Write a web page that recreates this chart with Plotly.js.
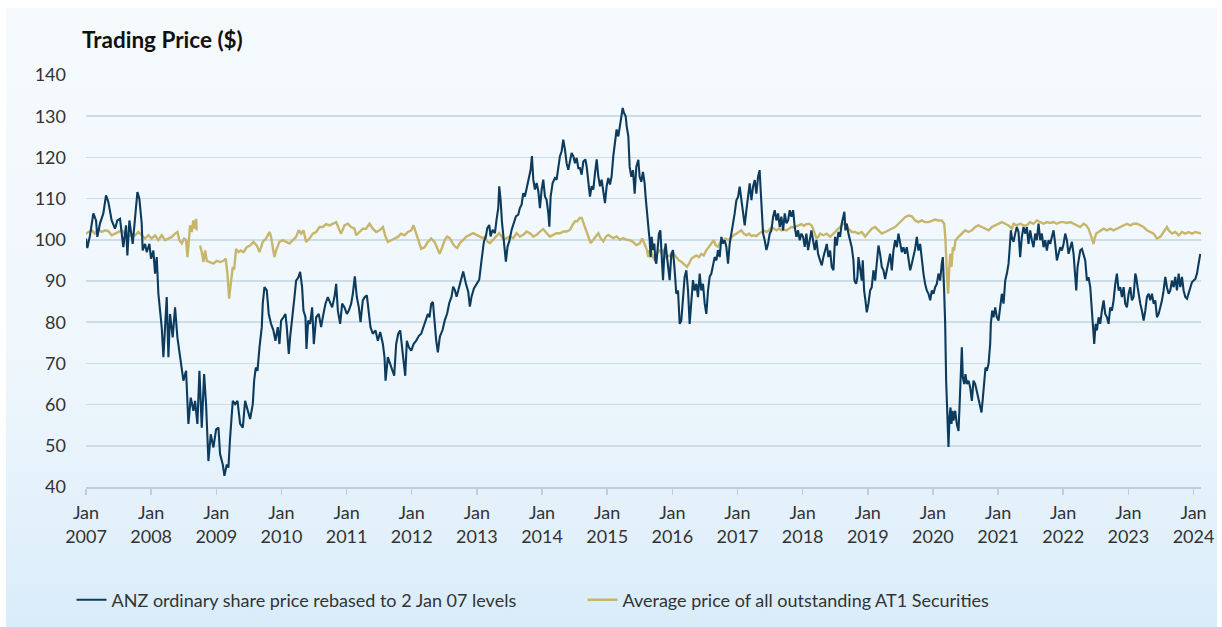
<!DOCTYPE html>
<html>
<head>
<meta charset="utf-8">
<script src="https://cdn.plot.ly/plotly-3.0.1.min.js"></script>
<style>
  html, body { margin: 0; padding: 0; background: #ffffff; }
  #bg { position: absolute; left: 6px; top: 8px; width: 1211px; height: 619px;
        background: linear-gradient(to bottom, #f6fafd 0%, #eff7fc 55%, #e4f1fb 80%, #d9ecf9 100%); }
  #chart { position: absolute; left: 0; top: 0; width: 1222px; height: 627px; }
</style>
</head>
<body>
<div id="bg"></div>
<div id="chart"></div>
<script>
// ---- Data (decimal years) ----
const anzDates = [
2007.000,2007.020,2007.061,2007.113,2007.154,2007.174,2007.215,2007.266,2007.307,2007.343,2007.394,2007.445,2007.481,2007.522,2007.573,2007.614,2007.635,2007.666,2007.717,2007.753,2007.789,2007.819,2007.855,2007.870,2007.906,2007.932,2007.973,2007.998,
2008.034,2008.060,2008.086,2008.111,2008.137,2008.162,2008.188,2008.214,2008.239,2008.265,2008.290,2008.331,2008.367,2008.403,2008.444,2008.495,2008.536,2008.572,2008.608,2008.649,2008.674,2008.710,2008.741,2008.777,2008.813,2008.843,2008.879,2008.915,2008.956,2008.997,
2009.033,2009.058,2009.099,2009.125,2009.161,2009.186,2009.212,2009.253,2009.289,2009.325,2009.366,2009.407,2009.442,2009.478,2009.519,2009.560,2009.581,2009.606,2009.632,2009.663,2009.698,2009.713,2009.739,2009.775,2009.805,2009.841,2009.877,2009.908,2009.944,2009.969,2009.995,
2010.031,2010.061,2010.082,2010.113,2010.133,2010.164,2010.200,2010.225,2010.261,2010.287,2010.317,2010.338,2010.369,2010.384,2010.410,2010.440,2010.471,2010.497,2010.533,2010.573,2010.609,2010.635,2010.676,2010.712,2010.748,2010.778,2010.814,2010.840,2010.866,2010.901,2010.932,2010.968,
2011.004,2011.034,2011.070,2011.096,2011.126,2011.157,2011.188,2011.214,2011.249,2011.280,2011.311,2011.341,2011.367,2011.403,2011.444,2011.480,2011.516,2011.557,2011.582,2011.598,2011.633,2011.669,2011.700,2011.731,2011.761,2011.792,2011.823,2011.854,2011.874,2011.900,2011.925,2011.956,2011.992,
2012.028,2012.069,2012.110,2012.145,2012.181,2012.222,2012.248,2012.273,2012.299,2012.325,2012.350,2012.376,2012.401,2012.432,2012.473,2012.508,2012.544,2012.575,2012.611,2012.636,2012.662,2012.688,2012.729,2012.764,2012.790,2012.831,2012.867,2012.892,2012.918,2012.954,2012.995,
2013.036,2013.072,2013.108,2013.138,2013.159,2013.190,2013.210,2013.241,2013.277,2013.302,2013.328,2013.343,2013.364,2013.384,2013.405,2013.430,2013.445,2013.471,2013.497,2013.533,2013.568,2013.599,2013.635,2013.660,2013.686,2013.712,2013.737,2013.773,2013.804,2013.825,2013.845,2013.866,2013.891,2013.917,2013.943,2013.968,2013.994,
2014.019,2014.045,2014.070,2014.096,2014.112,2014.132,2014.163,2014.198,2014.224,2014.249,2014.275,2014.301,2014.326,2014.352,2014.377,2014.403,2014.429,2014.454,2014.480,2014.506,2014.531,2014.557,2014.582,2014.608,2014.634,2014.665,2014.685,2014.711,2014.736,2014.762,2014.787,2014.813,2014.839,2014.864,2014.890,2014.915,2014.941,2014.966,2014.992,
2015.017,2015.043,2015.068,2015.094,2015.120,2015.145,2015.171,2015.196,2015.222,2015.238,2015.258,2015.284,2015.299,2015.325,2015.345,2015.371,2015.396,2015.422,2015.447,2015.478,2015.498,2015.524,2015.549,2015.575,2015.590,2015.601,2015.616,2015.637,2015.652,2015.667,2015.683,2015.703,2015.724,2015.739,2015.754,2015.775,2015.795,2015.816,2015.836,2015.857,2015.877,2015.898,2015.918,2015.939,2015.959,2015.985,
2016.010,2016.036,2016.061,2016.087,2016.113,2016.138,2016.164,2016.189,2016.215,2016.241,2016.266,2016.292,2016.317,2016.343,2016.369,2016.394,2016.420,2016.445,2016.471,2016.497,2016.522,2016.548,2016.573,2016.599,2016.625,2016.650,2016.676,2016.701,2016.727,2016.753,2016.778,2016.804,2016.829,2016.855,2016.881,2016.906,2016.932,2016.957,2016.983,
2017.009,2017.034,2017.060,2017.086,2017.111,2017.137,2017.162,2017.188,2017.214,2017.239,2017.265,2017.290,2017.316,2017.340,2017.356,2017.372,2017.393,2017.418,2017.444,2017.470,2017.495,2017.521,2017.547,2017.572,2017.598,2017.623,2017.649,2017.674,2017.700,2017.726,2017.751,2017.777,2017.802,2017.828,2017.854,2017.879,2017.905,2017.930,2017.956,2017.981,
2018.007,2018.033,2018.058,2018.084,2018.109,2018.135,2018.160,2018.186,2018.212,2018.237,2018.268,2018.294,2018.319,2018.345,2018.371,2018.396,2018.422,2018.447,2018.473,2018.498,2018.524,2018.550,2018.575,2018.600,2018.626,2018.641,2018.657,2018.677,2018.703,2018.729,2018.754,2018.780,2018.795,2018.821,2018.841,2018.857,2018.882,2018.908,2018.923,2018.944,2018.964,2018.985,
2019.010,2019.036,2019.061,2019.087,2019.113,2019.138,2019.164,2019.189,2019.215,2019.241,2019.266,2019.292,2019.317,2019.343,2019.369,2019.394,2019.420,2019.446,2019.471,2019.497,2019.522,2019.548,2019.573,2019.599,2019.625,2019.651,2019.676,2019.702,2019.727,2019.753,2019.778,2019.804,2019.829,2019.855,2019.880,2019.906,2019.932,2019.958,2019.983,
2020.009,2020.034,2020.060,2020.085,2020.111,2020.136,2020.152,2020.172,2020.188,2020.203,2020.218,2020.229,2020.239,2020.254,2020.270,2020.285,2020.301,2020.316,2020.342,2020.367,2020.393,2020.408,2020.418,2020.444,2020.459,2020.480,2020.500,2020.521,2020.546,2020.572,2020.598,2020.623,2020.649,2020.674,2020.700,2020.726,2020.746,2020.767,2020.787,2020.807,2020.828,2020.854,2020.879,2020.889,2020.910,2020.930,2020.956,2020.981,
2021.007,2021.033,2021.058,2021.084,2021.110,2021.135,2021.161,2021.176,2021.197,2021.210,2021.237,2021.263,2021.288,2021.314,2021.339,2021.365,2021.391,2021.416,2021.442,2021.467,2021.493,2021.519,2021.544,2021.570,2021.595,2021.621,2021.647,2021.672,2021.698,2021.724,2021.749,2021.775,2021.800,2021.826,2021.852,2021.877,2021.903,2021.928,2021.954,2021.980,
2022.005,2022.031,2022.056,2022.082,2022.108,2022.133,2022.159,2022.184,2022.200,2022.220,2022.241,2022.261,2022.287,2022.312,2022.338,2022.364,2022.389,2022.415,2022.440,2022.456,2022.476,2022.497,2022.517,2022.543,2022.568,2022.594,2022.620,2022.645,2022.671,2022.696,2022.722,2022.748,2022.773,2022.799,2022.824,2022.850,2022.876,2022.901,2022.927,2022.952,2022.978,
2023.004,2023.029,2023.055,2023.080,2023.106,2023.121,2023.142,2023.162,2023.183,2023.208,2023.234,2023.260,2023.285,2023.311,2023.336,2023.362,2023.388,2023.413,2023.439,2023.465,2023.490,2023.516,2023.541,2023.567,2023.592,2023.618,2023.644,2023.669,2023.695,2023.720,2023.746,2023.772,2023.797,2023.823,2023.848,2023.874,2023.900,2023.925,2023.951,2023.976,
2024.002,2024.028,2024.053,2024.079,2024.104
];
const anzValues = [
100.3,98.0,101.0,106.4,104.7,100.7,104.0,106.4,110.8,109.2,104.7,102.7,104.7,105.1,98.2,103.5,96.2,104.7,99.0,105.5,111.6,110.0,104.0,97.4,99.0,97.0,99.0,95.4,
97.4,91.8,95.8,86.9,82.8,78.8,71.5,79.6,86.1,71.5,82.0,76.3,83.6,76.3,71.5,65.8,68.2,55.3,61.7,58.5,60.9,55.3,68.2,54.4,67.4,60.1,46.3,52.8,49.6,54.0,
54.4,48.0,45.5,42.7,45.5,44.7,52.0,60.9,60.1,60.9,55.3,54.4,60.9,58.5,56.5,60.1,65.8,69.0,68.2,73.9,78.8,84.5,88.5,87.7,82.0,79.6,78.0,75.5,78.8,74.7,80.4,
81.2,82.0,78.8,72.3,76.3,80.4,86.1,90.1,90.9,92.2,88.5,82.8,81.2,73.5,80.4,79.6,83.6,74.7,81.2,82.0,78.8,81.2,84.5,86.1,84.9,83.6,86.1,89.3,82.8,79.6,84.5,83.6,
82.0,82.8,84.5,86.9,91.1,86.1,83.6,80.0,85.3,86.1,86.5,82.8,78.8,77.2,78.0,75.5,77.6,74.7,71.5,65.8,71.5,69.9,68.2,67.0,74.7,77.2,78.0,73.9,71.5,67.0,75.5,73.9,73.1,
74.7,75.5,76.7,77.2,78.8,80.4,82.0,81.2,84.5,84.9,79.6,75.5,72.7,76.5,78.1,80.5,82.1,84.6,86.2,88.6,87.8,86.2,88.6,91.1,92.3,89.4,87.4,83.8,86.2,88.2,89.4,
90.3,95.1,99.6,100.8,102.8,103.6,100.8,102.4,101.6,104.9,107.7,113.0,109.7,104.5,100.8,97.6,94.7,98.4,99.6,102.4,104.0,105.7,106.1,107.7,108.5,111.3,110.5,113.0,115.4,117.0,120.3,114.6,112.2,113.8,111.8,107.7,112.2,
114.6,110.5,109.7,106.5,103.2,110.5,113.8,115.0,114.6,117.4,120.3,121.5,124.3,121.9,118.6,117.0,119.0,121.1,120.3,118.6,119.9,117.4,117.4,115.8,119.0,119.5,117.8,114.6,110.5,113.0,112.2,116.2,119.5,115.4,113.0,114.6,112.2,108.9,113.0,
115.0,113.4,115.4,120.3,124.3,126.8,125.1,127.6,130.4,132.0,130.8,130.0,127.6,125.1,117.7,115.3,116.9,111.2,117.7,119.4,115.3,114.1,116.5,113.7,110.4,108.0,105.6,102.3,99.9,95.8,100.7,97.5,99.1,95.0,94.2,98.3,101.5,102.3,97.5,90.2,96.6,99.1,95.8,93.4,90.2,96.6,
97.5,92.6,86.9,87.7,79.6,80.4,85.3,91.0,92.6,87.7,79.6,86.1,90.2,87.7,89.3,86.1,91.8,87.7,89.3,84.5,82.0,87.7,91.0,91.8,94.2,95.8,95.0,97.5,95.8,100.7,99.1,99.9,98.3,94.2,99.1,101.5,103.1,106.4,109.6,
110.4,112.9,109.6,107.2,103.5,107.2,111.2,113.7,109.6,112.9,114.5,111.2,115.3,116.9,112.1,105.6,101.5,99.9,97.5,99.1,101.5,102.3,105.6,107.2,104.7,106.4,103.1,105.6,102.3,106.4,104.0,104.7,107.2,105.6,107.2,103.1,100.7,102.3,99.9,101.5,
100.7,98.3,101.5,97.5,99.9,102.3,99.9,97.5,99.9,96.6,95.0,93.8,95.8,97.8,99.0,95.8,97.4,93.4,92.6,100.7,98.6,101.9,100.7,103.9,105.9,106.8,102.3,103.9,101.5,99.9,98.2,95.0,90.1,89.3,90.9,95.8,92.6,90.1,95.0,87.7,85.3,82.4,
84.5,87.7,88.5,92.6,90.1,94.2,98.6,96.6,93.4,92.6,90.5,92.6,95.0,96.6,92.6,97.4,99.9,98.2,101.5,99.0,97.0,98.2,96.6,98.2,95.0,92.6,94.2,95.8,97.8,100.7,97.4,99.0,95.0,91.8,89.3,87.7,86.9,85.3,87.7,
86.9,88.5,89.3,91.8,90.1,94.2,95.8,87.7,79.6,65.8,60.1,53.6,49.7,56.9,59.3,55.3,58.5,56.1,58.5,55.3,53.6,59.3,65.0,73.9,66.6,65.0,67.4,65.0,65.8,64.2,60.9,65.8,65.0,63.4,61.7,60.1,58.1,61.7,65.8,69.0,68.2,69.9,74.7,79.6,82.8,81.2,83.6,81.2,
80.4,84.5,86.9,84.5,90.1,91.8,94.2,97.4,102.3,100.7,99.5,101.5,103.1,101.9,95.8,100.7,103.1,101.5,103.1,99.0,102.3,99.9,98.2,101.5,99.9,103.9,99.9,101.5,98.2,99.9,97.4,99.9,99.0,100.7,102.3,99.0,95.0,96.6,98.2,97.4,
99.0,101.5,99.9,96.6,98.2,99.5,96.6,90.9,87.7,93.4,95.8,97.4,97.8,96.6,95.0,90.1,90.9,88.5,82.8,78.8,74.7,79.6,78.0,81.2,79.6,82.8,85.3,82.0,81.2,79.6,83.6,82.8,85.3,89.3,91.8,87.7,88.5,86.1,88.5,84.5,83.6,
86.9,88.5,85.3,86.1,91.8,90.9,88.5,86.1,84.5,82.8,80.4,82.8,86.1,86.9,85.3,86.9,84.5,85.3,81.2,82.0,83.6,85.3,87.7,91.0,88.5,86.9,87.7,90.1,88.5,91.0,87.7,91.8,88.5,91.0,87.7,86.1,85.7,86.9,88.5,89.7,
90.1,90.5,91.8,94.2,96.6
];

const at1Dates = [
2007.000,2007.036,2007.087,2007.138,2007.189,2007.241,2007.292,2007.343,2007.394,2007.445,2007.497,2007.548,2007.599,2007.650,2007.701,2007.753,2007.804,2007.855,2007.906,2007.957,
2008.009,2008.060,2008.111,2008.162,2008.213,2008.264,2008.316,2008.367,2008.403,2008.434,2008.470,2008.506,2008.536,2008.557,2008.577,2008.598,2008.623,2008.649,2008.674,2008.690,2008.700,2008.725,2008.751,2008.777,2008.802,2008.828,2008.854,2008.905,2008.956,
2009.007,2009.058,2009.110,2009.145,2009.171,2009.197,2009.222,2009.253,2009.273,2009.304,2009.340,2009.376,2009.417,2009.468,2009.519,2009.570,2009.622,2009.663,2009.713,2009.764,2009.816,2009.841,2009.867,2009.892,2009.918,2009.969,
2010.020,2010.072,2010.123,2010.174,2010.225,2010.266,2010.302,2010.338,2010.379,2010.430,2010.481,2010.533,2010.584,2010.635,2010.686,2010.737,2010.789,2010.840,2010.891,2010.916,2010.968,
2011.019,2011.070,2011.121,2011.147,2011.198,2011.249,2011.300,2011.352,2011.403,2011.454,2011.505,2011.557,2011.598,2011.633,2011.685,2011.736,2011.787,2011.838,2011.889,2011.940,2011.992,
2012.028,2012.069,2012.110,2012.145,2012.197,2012.248,2012.299,2012.350,2012.386,2012.427,2012.468,2012.508,2012.544,2012.585,2012.626,2012.662,2012.698,2012.739,2012.790,2012.841,2012.892,2012.944,2012.995,
2013.046,2013.087,2013.123,2013.159,2013.200,2013.251,2013.302,2013.343,2013.379,2013.415,2013.456,2013.507,2013.558,2013.609,2013.660,2013.712,2013.763,2013.814,2013.865,2013.917,2013.968,
2014.019,2014.070,2014.121,2014.173,2014.224,2014.275,2014.326,2014.377,2014.429,2014.470,2014.506,2014.541,2014.577,2014.608,2014.634,2014.674,2014.711,2014.746,2014.787,2014.828,2014.864,2014.900,2014.941,2014.982,
2015.017,2015.053,2015.094,2015.145,2015.196,2015.248,2015.299,2015.345,2015.396,2015.447,2015.498,2015.539,2015.575,2015.611,2015.632,2015.652,2015.677,2015.703,2015.734,2015.764,2015.795,2015.831,2015.867,2015.908,2015.949,2015.990,
2016.020,2016.061,2016.102,2016.143,2016.174,2016.205,2016.225,2016.256,2016.292,2016.328,2016.369,2016.410,2016.445,2016.481,2016.522,2016.563,2016.599,2016.635,2016.666,2016.701,2016.737,2016.778,2016.819,2016.860,2016.906,2016.942,2016.983,
2017.024,2017.060,2017.096,2017.137,2017.178,2017.214,2017.249,2017.290,2017.331,2017.367,2017.403,2017.444,2017.485,2017.521,2017.557,2017.598,2017.639,2017.674,2017.710,2017.751,2017.792,2017.828,2017.864,2017.905,2017.946,2017.982,
2018.017,2018.058,2018.099,2018.135,2018.160,2018.186,2018.212,2018.237,2018.268,2018.319,2018.371,2018.422,2018.473,2018.524,2018.575,2018.626,2018.667,2018.703,2018.754,2018.805,2018.857,2018.908,2018.959,
2019.010,2019.061,2019.113,2019.164,2019.215,2019.266,2019.317,2019.369,2019.420,2019.471,2019.522,2019.573,2019.625,2019.676,2019.727,2019.778,2019.829,2019.880,2019.932,2019.983,
2020.034,2020.085,2020.136,2020.173,2020.193,2020.213,2020.234,2020.249,2020.265,2020.285,2020.306,2020.326,2020.347,2020.393,2020.444,2020.495,2020.546,2020.598,2020.649,2020.700,2020.751,2020.802,2020.854,2020.905,2020.956,
2021.007,2021.058,2021.110,2021.161,2021.212,2021.237,2021.288,2021.339,2021.391,2021.442,2021.493,2021.544,2021.595,2021.647,2021.698,2021.749,2021.800,2021.852,2021.903,2021.954,
2022.005,2022.056,2022.108,2022.159,2022.210,2022.261,2022.312,2022.353,2022.389,2022.415,2022.440,2022.466,2022.481,2022.507,2022.543,2022.579,2022.620,2022.671,2022.722,2022.773,2022.824,2022.876,2022.927,2022.978,
2023.029,2023.080,2023.132,2023.183,2023.234,2023.285,2023.336,2023.388,2023.439,2023.490,2023.541,2023.592,2023.618,2023.669,2023.720,2023.772,2023.823,2023.874,2023.925,2023.976,
2024.028,2024.079,2024.115
];
const at1Values = [
101.5,101.9,102.3,101.5,102.5,101.9,102.3,102.1,101.1,101.5,101.9,102.3,101.5,100.7,101.5,101.1,101.9,101.1,100.3,101.1,
100.3,101.1,99.9,101.1,99.9,100.3,100.7,101.5,101.9,99.9,99.1,100.3,99.9,95.8,100.7,103.5,101.9,104.7,102.7,105.1,102.3,null,98.6,97.0,94.6,97.4,94.9,94.6,94.2,
94.9,94.6,94.9,95.4,91.8,85.7,89.3,93.4,92.7,97.8,97.0,97.4,97.0,98.2,98.6,99.5,98.6,97.0,99.5,100.3,101.9,100.7,98.2,95.8,97.4,99.5,
99.9,99.5,99.1,99.9,100.7,102.3,101.5,102.3,99.5,100.3,101.5,101.9,103.1,103.1,103.8,103.5,103.9,104.3,102.3,101.5,103.5,
103.9,103.1,102.7,101.1,101.9,102.7,102.7,103.9,102.7,101.9,102.3,103.1,100.7,99.5,99.9,100.3,100.7,101.5,101.1,101.9,102.3,
103.5,101.5,99.9,97.8,98.2,99.5,100.3,99.5,98.2,96.6,98.2,100.0,100.8,100.4,99.2,98.4,98.0,99.2,100.0,100.8,101.2,101.6,101.2,
100.8,100.4,100.8,99.6,99.2,100.0,100.8,101.6,100.8,100.0,100.4,100.8,100.4,101.6,100.8,101.2,102.0,101.6,100.8,101.2,102.0,
102.6,101.6,100.8,101.2,101.6,101.6,102.0,102.0,102.4,103.6,104.5,104.5,105.3,105.3,104.0,102.4,100.8,99.2,100.0,100.8,101.6,100.4,99.6,100.8,
101.2,100.8,100.4,100.8,100.0,100.4,100.0,99.9,99.5,98.7,99.1,100.3,98.7,97.5,95.8,97.5,97.0,95.8,95.0,96.6,97.5,97.0,97.5,95.8,96.2,95.8,
96.6,95.8,95.0,94.6,94.2,93.8,93.4,94.2,95.4,95.8,96.2,95.8,96.6,96.2,97.5,98.3,99.1,99.9,98.7,98.3,99.5,99.9,100.3,99.9,100.7,101.1,101.5,
101.9,102.3,101.5,101.1,101.5,100.9,101.1,100.9,101.5,101.9,102.3,101.9,102.3,103.1,102.7,102.3,102.7,102.3,102.5,102.3,102.7,103.1,103.0,103.3,103.5,103.8,
103.4,103.8,103.9,103.5,102.7,101.5,100.3,100.7,101.5,101.1,101.5,100.7,101.5,102.3,103.1,103.9,103.9,102.7,101.9,101.9,101.5,101.9,100.8,
101.9,102.7,103.1,102.3,101.5,101.9,102.3,102.7,103.1,103.9,104.7,105.5,105.9,105.7,104.7,104.3,104.7,104.3,104.3,104.7,
104.9,104.7,104.7,103.9,99.9,91.8,86.9,92.6,96.6,93.4,98.2,97.4,99.9,100.7,101.5,102.3,101.9,102.3,103.1,103.5,103.1,102.7,102.3,103.1,103.5,
103.9,104.3,103.9,103.5,102.7,103.9,103.5,103.9,103.5,103.5,104.3,103.9,104.7,104.3,103.9,104.3,104.1,104.3,103.9,104.3,
104.3,104.1,104.3,103.9,103.5,103.1,103.9,103.5,102.7,101.5,100.3,99.0,100.3,101.5,101.9,102.3,102.7,102.3,102.7,102.3,102.7,103.1,103.5,103.9,
103.5,103.9,103.9,103.5,103.1,102.3,101.9,101.5,100.3,100.7,101.9,103.1,102.3,101.5,101.9,101.1,101.9,101.5,101.9,101.5,
101.9,101.7,101.5
];

const yTicks = [40, 50, 60, 70, 80, 90, 100, 110, 120, 130, 140];
const xTickYears = [2007,2008,2009,2010,2011,2012,2013,2014,2015,2016,2017,2018,2019,2020,2021,2022,2023,2024];
const xTickLabels = xTickYears.map(y => 'Jan<br>' + y);
const seriesNames = ['ANZ ordinary share price rebased to 2 Jan 07 levels', 'Average price of all outstanding AT1 Securities'];
const chartTitle = 'Trading Price ($)';

const FONT = 'Lato, "Open Sans", sans-serif';

const traces = [
  { x: at1Dates, y: at1Values, type: 'scatter', mode: 'lines', name: seriesNames[1], legend: 'legend2',
    line: { color: '#c7b56c', width: 2.4 }, connectgaps: false, hoverinfo: 'skip' },
  { x: anzDates, y: anzValues, type: 'scatter', mode: 'lines', name: seriesNames[0], legend: 'legend',
    line: { color: '#0c3b5d', width: 2.1 }, hoverinfo: 'skip' }
];

const legendFont = { family: FONT, size: 18, color: '#333333' };

const layout = {
  width: 1222, height: 627, autosize: false,
  margin: { l: 86, r: 21, t: 75, b: 140, pad: 0 },
  paper_bgcolor: 'rgba(0,0,0,0)', plot_bgcolor: 'rgba(0,0,0,0)',
  title: { text: '<b>' + chartTitle + '</b>', xref: 'container', x: 82 / 1222, xanchor: 'left',
           yref: 'container', y: 1 - 40 / 627, yanchor: 'middle',
           font: { family: FONT, size: 22.5, color: '#111111' } },
  xaxis: { type: 'linear', range: [2007, 2024.115], tickmode: 'array', tickvals: xTickYears, ticktext: xTickLabels,
           showgrid: false, zeroline: false, showline: true, linecolor: '#bccfdb', linewidth: 1.5,
           ticks: 'outside', ticklen: 6, tickwidth: 1.5, tickcolor: '#bccfdb', ticklabelstandoff: 3,
           tickfont: { family: FONT, size: 18, color: '#333333' }, fixedrange: true },
  yaxis: { range: [40, 140], tickmode: 'array', tickvals: yTicks, showgrid: true, gridcolor: '#cddde8', gridwidth: 1.5,
           zeroline: false, showline: false, ticks: '', ticklabelstandoff: 19,
           tickfont: { family: FONT, size: 18, color: '#333333' }, fixedrange: true },
  showlegend: true,
  legend: { orientation: 'h', xref: 'paper', x: -0.013, xanchor: 'left', yref: 'container', y: 1 - 600 / 627, yanchor: 'middle',
            font: legendFont, bgcolor: 'rgba(0,0,0,0)' },
  legend2: { orientation: 'h', xref: 'paper', x: 0.4453, xanchor: 'left', yref: 'container', y: 1 - 600 / 627, yanchor: 'middle',
            font: legendFont, bgcolor: 'rgba(0,0,0,0)' }
};

Plotly.newPlot('chart', traces, layout, { staticPlot: true, displayModeBar: false });
</script>
</body>
</html>
